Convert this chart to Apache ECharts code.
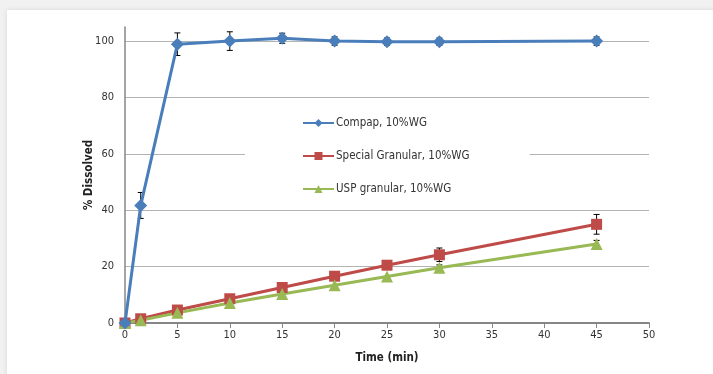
<!DOCTYPE html>
<html><head><meta charset="utf-8">
<script src="https://cdn.jsdelivr.net/npm/echarts@6/dist/echarts.min.js"></script>
<style>
html,body{margin:0;padding:0;width:713px;height:374px;overflow:hidden;background:#f1f1f1;}
#card{position:absolute;left:7px;top:10px;width:720px;height:380px;background:#fff;box-shadow:0 0 5px rgba(0,0,0,0.10);}
#chart{position:absolute;left:0;top:0;width:713px;height:374px;}
</style></head>
<body>
<div id="card"></div>
<div id="chart"></div>
<script>
const times = [0, 1.5, 5, 10, 15, 20, 25, 30, 45];
const compap = [0, 41.7, 98.9, 100, 101, 100, 99.8, 99.8, 100];
const compapErr = [0, 4.6, 4, 3.3, 1.8, 1.5, 1.3, 1.3, 1.5];
const special = [0, 1.5, 4.6, 8.6, 12.6, 16.6, 20.5, 24.2, 35];
const specialErr = [0, 0, 0, 0, 0, 0, 1.2, 2.4, 3.5];
const usp = [0, 1, 3.6, 7.1, 10.3, 13.4, 16.5, 19.6, 28];
const uspErr = [0, 0, 0, 0, 0, 0, 0, 1, 1.3];
const seriesNames = ['Compap, 10%WG', 'Special Granular, 10%WG', 'USP granular, 10%WG'];
const colors = ['#4a7ebb', '#be4b48', '#98b954'];
const xTicks = {min: 0, max: 50, interval: 5};
const yTicks = {min: 0, max: 105, interval: 20};

function pts(v){ return times.map((t,i)=>[t, v[i]]); }
function errData(v, e){ return times.map((t,i)=>[t, v[i]-e[i], v[i]+e[i]]).filter((d,i)=>e[i]>0); }

function errSeries(v, e){
  return {
    type: 'custom', z: 1, silent: true,
    data: errData(v, e),
    renderItem: function(params, api){
      const lo = api.coord([api.value(0), api.value(1)]);
      const hi = api.coord([api.value(0), api.value(2)]);
      const w = 3;
      const st = {stroke: '#000', lineWidth: 1};
      return {type: 'group', children: [
        {type: 'line', shape: {x1: lo[0], y1: lo[1], x2: hi[0], y2: hi[1]}, style: st},
        {type: 'line', shape: {x1: lo[0]-w, y1: lo[1], x2: lo[0]+w, y2: lo[1]}, style: st},
        {type: 'line', shape: {x1: hi[0]-w, y1: hi[1], x2: hi[0]+w, y2: hi[1]}, style: st}
      ]};
    }
  };
}

const font = 'DejaVu Sans Condensed, DejaVu Sans, sans-serif';
const chart = echarts.init(document.getElementById('chart'));
chart.setOption({
  animation: false,
  backgroundColor: 'transparent',
  grid: {left: 125, right: 64, top: 27, bottom: 51},
  xAxis: {
    type: 'value', min: xTicks.min, max: xTicks.max, interval: xTicks.interval,
    name: 'Time (min)', nameLocation: 'middle', nameGap: 29,
    nameTextStyle: {fontFamily: font, fontSize: 11.5, fontWeight: 'bold', color: '#222'},
    axisLine: {lineStyle: {color: '#868686', width: 2}},
    axisTick: {show: true, length: 5, lineStyle: {color: '#868686', width: 1}},
    axisLabel: {fontFamily: font, fontSize: 11, color: '#333', margin: 7},
    splitLine: {show: false}
  },
  yAxis: {
    type: 'value', min: yTicks.min, max: yTicks.max, interval: yTicks.interval,
    name: '% Dissolved', nameLocation: 'middle', nameGap: 30, nameRotate: 90,
    nameMoveOverlap: false,
    nameTextStyle: {fontFamily: font, fontSize: 11.5, fontWeight: 'bold', color: '#222'},
    axisLine: {show: true, lineStyle: {color: '#868686', width: 1.5}},
    axisTick: {show: false},
    axisLabel: {fontFamily: font, fontSize: 11, color: '#333', margin: 11,
      formatter: v => (v > 100 ? '' : String(v))},
    splitLine: {show: true, lineStyle: {color: ['#b3b3b3','#b3b3b3','#b3b3b3','#b3b3b3','#b3b3b3','#b3b3b3','rgba(0,0,0,0)'], width: 1}}
  },
  legend: {
    data: seriesNames,
    orient: 'vertical', left: 245, top: 109,
    backgroundColor: '#fff',
    padding: [8, 60, 8, 57],
    itemWidth: 31, itemHeight: 10, itemGap: 21,
    textStyle: {fontFamily: font, fontSize: 11.5, color: '#333', padding: [0,0,0,-3]}
  },
  series: [
    {name: seriesNames[0], type: 'line', data: pts(compap), symbol: 'diamond', symbolSize: 13,
     lineStyle: {width: 3, color: colors[0]}, itemStyle: {color: colors[0]}, z: 3},
    {name: seriesNames[1], type: 'line', data: pts(special), symbol: 'rect', symbolSize: 11,
     lineStyle: {width: 3, color: colors[1]}, itemStyle: {color: colors[1]}, z: 2},
    {name: seriesNames[2], type: 'line', data: pts(usp), symbol: 'triangle', symbolSize: 12,
     lineStyle: {width: 3, color: colors[2]}, itemStyle: {color: colors[2]}, z: 2},
    errSeries(compap, compapErr),
    errSeries(special, specialErr),
    errSeries(usp, uspErr)
  ]
});
</script>
</body></html>
